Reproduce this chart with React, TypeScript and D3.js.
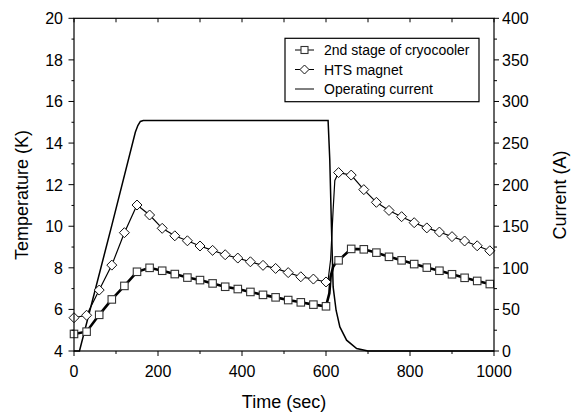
import React from 'react';
import * as d3 from 'd3';

// 2nd stage of cryocooler (K); markers every 30 s, extra points in the quench rise
const cryoTime = [0, 30, 60, 90, 120, 150, 180, 210, 240, 270, 300, 330, 360, 390, 420, 450, 480, 510, 540, 570, 600,
    608, 611, 617, 625,
    630, 660, 690, 720, 750, 780, 810, 840, 870, 900, 930, 960, 990];
const cryoTemp = [4.82, 4.93, 5.74, 6.48, 7.13, 7.81, 8.0, 7.86, 7.70, 7.53, 7.41, 7.25, 7.09, 6.98, 6.84, 6.70, 6.58, 6.45, 6.34, 6.23, 6.15,
    6.77, 7.57, 8.05, 8.29,
    8.36, 8.91, 8.89, 8.73, 8.53, 8.36, 8.18, 8.01, 7.86, 7.69, 7.52, 7.37, 7.22];

// HTS magnet (K)
const magnetTime = [0, 30, 60, 90, 120, 150, 180, 210, 240, 270, 300, 330, 360, 390, 420, 450, 480, 510, 540, 570, 600,
    605, 611, 617, 621,
    630, 660, 690, 720, 750, 780, 810, 840, 870, 900, 930, 960, 990];
const magnetTemp = [5.6, 5.72, 6.93, 8.13, 9.69, 11.02, 10.54, 9.90, 9.54, 9.30, 9.05, 8.84, 8.63, 8.47, 8.29, 8.12, 7.97, 7.77, 7.57, 7.46, 7.32,
    7.4, 8.4, 10.8, 12.2,
    12.58, 12.46, 11.76, 11.15, 10.76, 10.46, 10.17, 9.92, 9.72, 9.50, 9.29, 9.06, 8.82];

// Operating current (A)
const currentTime = [0, 13, 90, 146, 152, 158, 165, 605, 609, 613, 617, 624, 633, 649, 673, 700, 1000];
const currentAmp = [0, 0, 151, 263, 271, 276, 277, 277, 230, 149, 77, 49, 29, 13, 3, 0, 0];

const timeTicks = [0, 200, 400, 600, 800, 1000];
const tempTicks = [4, 6, 8, 10, 12, 14, 16, 18, 20];
const ampTicks = [0, 50, 100, 150, 200, 250, 300, 350, 400];

const legendLabels = ['2nd stage of cryocooler', 'HTS magnet', 'Operating current'];

const W = 577, H = 412;
const left = 74, right = 494, top = 18.3, bottom = 351;

const font = '"Liberation Sans", Arial, sans-serif';

function Square({x, y, s = 7.5}) {
    return <rect x={x - s / 2} y={y - s / 2} width={s} height={s} fill="white" stroke="#333" strokeWidth={1.1} />;
}

function Diamond({x, y, r = 5}) {
    return <path d={`M${x},${y - r}L${x + r},${y}L${x},${y + r}L${x - r},${y}Z`} fill="white" stroke="#111" strokeWidth={1} />;
}

export default function App() {
    const xScale = d3.scaleLinear().domain([0, 1000]).range([left, right]);
    const yTemp = d3.scaleLinear().domain([4, 20]).range([bottom, top]);
    const yAmp = d3.scaleLinear().domain([0, 400]).range([bottom, top]);

    const cryo = cryoTime.map((t, i) => [t, cryoTemp[i]]);
    const magnet = magnetTime.map((t, i) => [t, magnetTemp[i]]);
    const current = currentTime.map((t, i) => [t, currentAmp[i]]);

    const tempLine = d3.line().x(d => xScale(d[0])).y(d => yTemp(d[1]));
    const ampLine = d3.line().x(d => xScale(d[0])).y(d => yAmp(d[1]));

    const minorTime = d3.range(0, 1001, 100);
    const minorTemp = d3.range(4, 20.5, 1);
    const minorAmp = d3.range(0, 401, 25);

    const lx = 285, ly = 38.3, lw = 194, lh = 63.4;
    const rows = [50, 69.5, 89];

    return (
        <svg width={W} height={H} style={{position: 'absolute', left: 0, top: 0, background: 'white'}} fontFamily={font}>
            <path d={ampLine(current)} fill="none" stroke="black" strokeWidth={1.5} />
            <path d={tempLine(cryo)} fill="none" stroke="black" strokeWidth={2.6} />
            <path d={tempLine(magnet)} fill="none" stroke="black" strokeWidth={1.2} />
            {magnet.filter(d => d[0] % 30 === 0).map((d, i) =>
                <Diamond key={'d' + i} x={xScale(d[0])} y={yTemp(d[1])} />)}
            {cryo.filter(d => d[0] % 30 === 0).map((d, i) =>
                <Square key={'s' + i} x={xScale(d[0])} y={yTemp(d[1])} />)}

            {/* frame */}
            <rect x={left} y={top} width={right - left} height={bottom - top} fill="none" stroke="black" strokeWidth={1.2} />

            {/* bottom + top ticks */}
            {minorTime.map(t => {
                const major = t % 200 === 0;
                return <g key={'tx' + t}>
                    <line x1={xScale(t)} x2={xScale(t)} y1={bottom} y2={bottom + (major ? 5 : 3)} stroke="black" />
                    <line x1={xScale(t)} x2={xScale(t)} y1={top} y2={top + 4} stroke="black" />
                </g>;
            })}
            {timeTicks.map(t =>
                <text key={'tl' + t} x={xScale(t)} y={377} fontSize={16} textAnchor="middle">{t}</text>)}

            {/* left axis */}
            {minorTemp.map(v => {
                const major = v % 2 === 0;
                return <line key={'ky' + v} x1={left} x2={left - (major ? 5.5 : 2.5)} y1={yTemp(v)} y2={yTemp(v)} stroke="black" />;
            })}
            {tempTicks.map(v =>
                <text key={'kl' + v} x={63} y={yTemp(v) + 6} fontSize={16} textAnchor="end">{v}</text>)}

            {/* right axis */}
            {minorAmp.map(v => {
                const major = v % 50 === 0;
                return <line key={'ay' + v} x1={right} x2={right + (major ? 5 : 3)} y1={yAmp(v)} y2={yAmp(v)} stroke="black" />;
            })}
            {ampTicks.map(v =>
                <text key={'al' + v} x={502} y={yAmp(v) + 6} fontSize={16} textAnchor="start">{v}</text>)}

            {/* axis titles */}
            <text x={(left + right) / 2} y={408} fontSize={18} textAnchor="middle">Time (sec)</text>
            <text transform={`translate(28, 195) rotate(-90)`} fontSize={18} textAnchor="middle">Temperature (K)</text>
            <text transform={`translate(566, 195) rotate(-90)`} fontSize={18} textAnchor="middle">Current (A)</text>

            {/* legend */}
            <rect x={lx} y={ly} width={lw} height={lh} fill="white" stroke="black" strokeWidth={1.2} />
            {legendLabels.map((label, i) => (
                <g key={'lg' + i}>
                    <line x1={295} x2={314} y1={rows[i]} y2={rows[i]} stroke="black" strokeWidth={1} />
                    {i === 0 && <Square x={304.5} y={rows[i]} s={7} />}
                    {i === 1 && <Diamond x={304.5} y={rows[i]} r={4.5} />}
                    <text x={324} y={rows[i] + 5} fontSize={14}>{label}</text>
                </g>
            ))}
        </svg>
    );
}
